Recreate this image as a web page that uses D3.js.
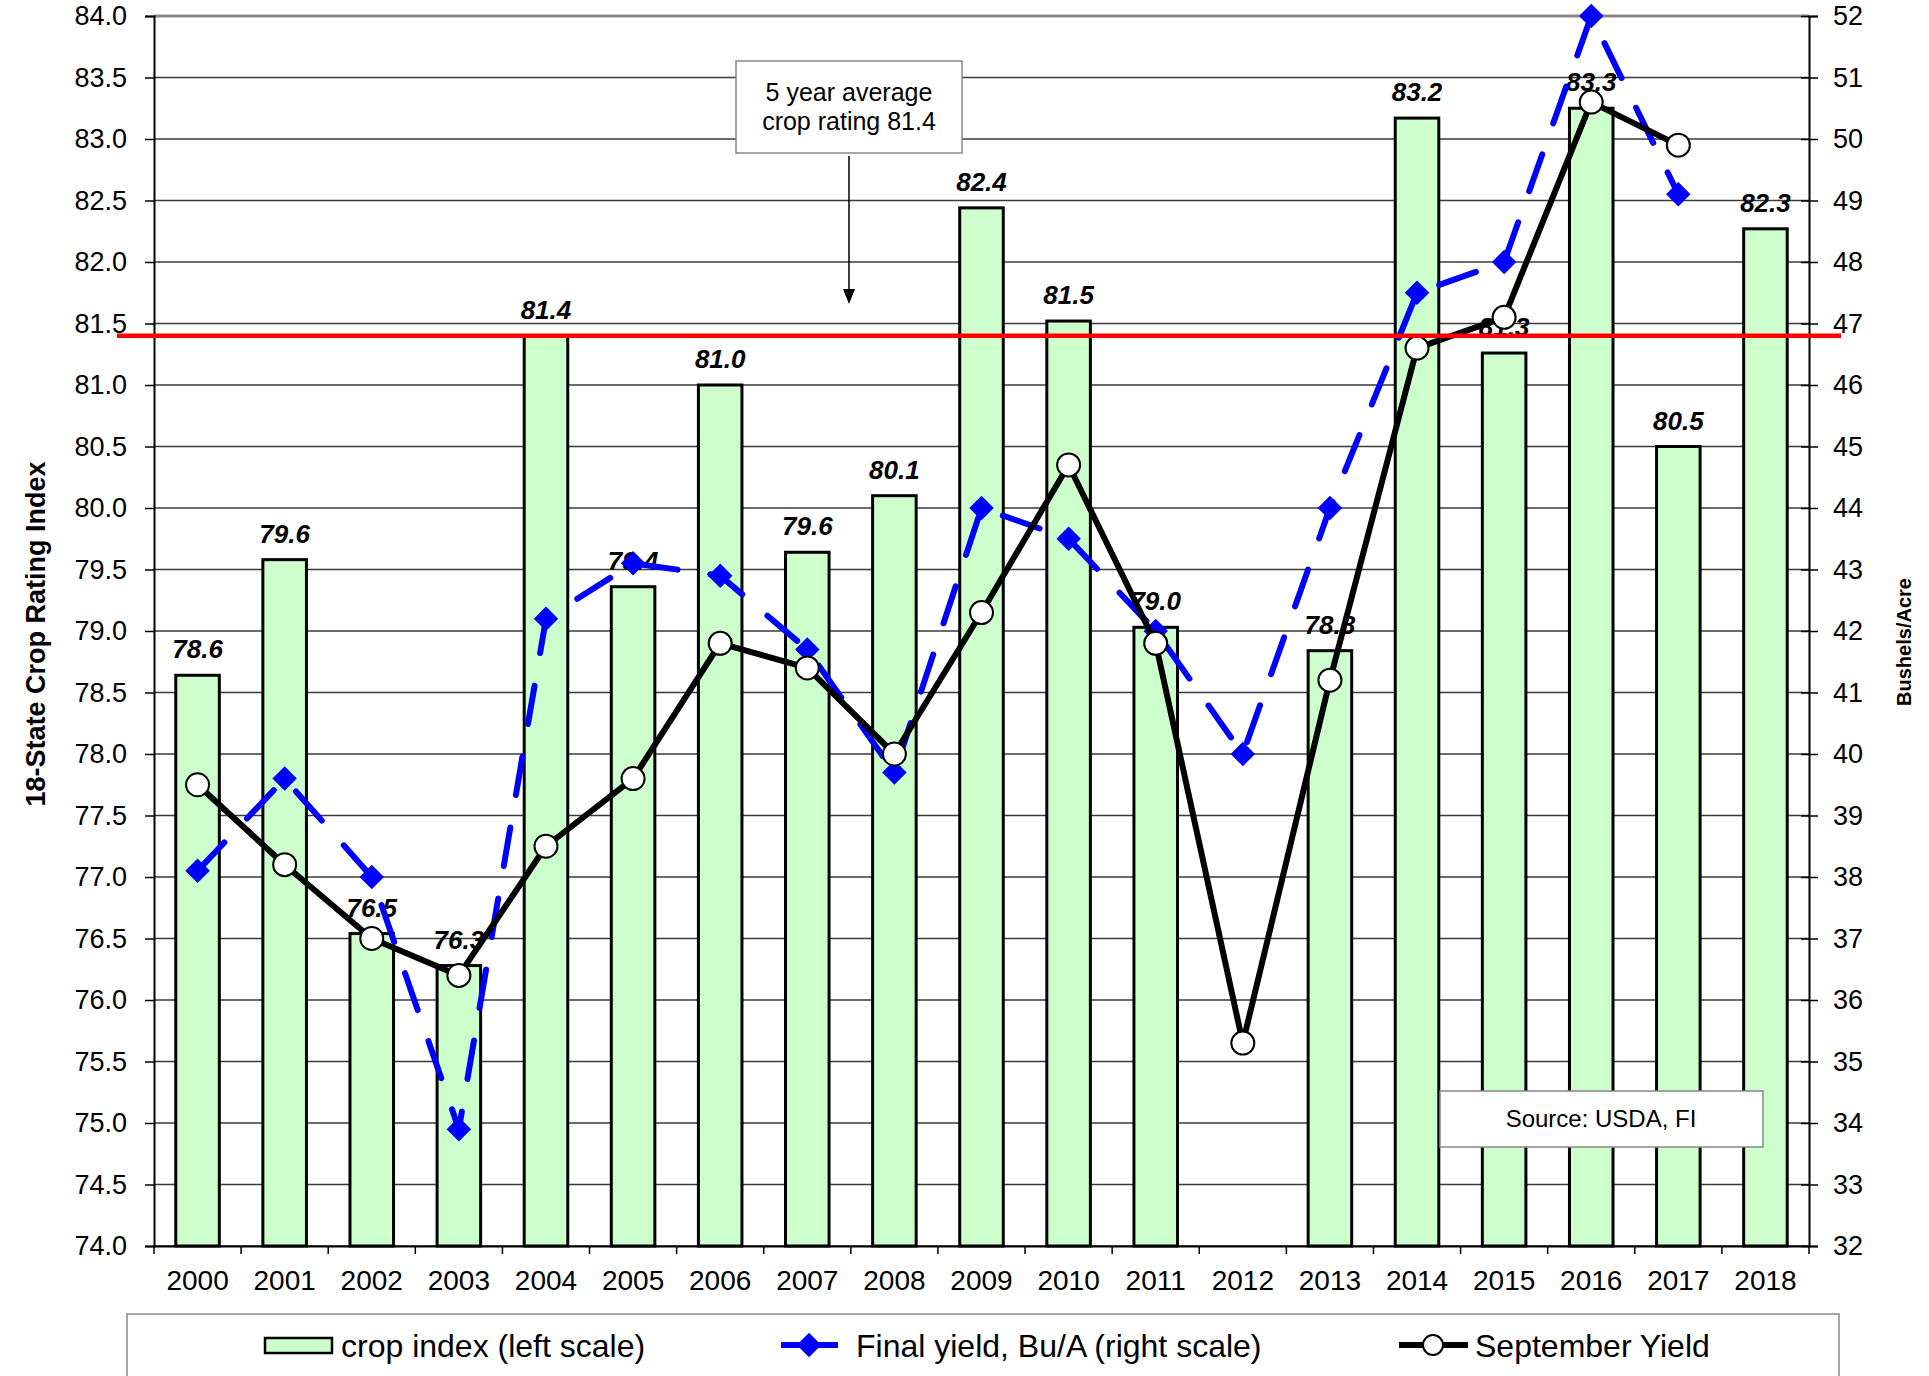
<!DOCTYPE html>
<html>
<head>
<meta charset="utf-8">
<script src="https://cdn.jsdelivr.net/npm/d3@7"></script>
<style>
  body { margin: 0; background: #fff; }
  svg { display: block; font-family: Arial, "Liberation Sans", sans-serif; }
</style>
</head>
<body>
<div id="chart"></div>
<script>
// values
const years = ['2000','2001','2002','2003','2004','2005','2006','2007','2008','2009',
               '2010','2011','2012','2013','2014','2015','2016','2017','2018']
// 18-state crop rating index (left scale); 2012 falls below the axis minimum
const cropIndex = [78.64, 79.58, 76.54, 76.28, 81.40, 79.36, 81.00, 79.64, 80.10, 82.44,
                   81.52, 79.03, 73.0, 78.84, 83.17, 81.26, 83.25, 80.50, 82.27]
// final yield, bu/a (right scale)
const finalYield = [38.1, 39.6, 38.0, 33.9, 42.2, 43.1, 42.9, 41.7, 39.7, 44.0,
                    43.5, 42.0, 40.0, 44.0, 47.5, 48.0, 52.0, 49.1, null]
// september yield (right scale)
const septYield = [39.5, 38.2, 37.0, 36.4, 38.5, 39.6, 41.8, 41.4, 40.0, 42.3,
                   44.7, 41.8, 35.3, 41.2, 46.6, 47.1, 50.6, 49.9, null]
const avgRating = 81.4
const leftTicks = d3.range(74, 84.001, 0.5)
const rightTicks = d3.range(32, 53, 1)

const width = 1929, height = 1376
const plotL = 154, plotR = 1809, plotT = 16, plotB = 1246

const svg = d3.select('#chart').append('svg')
    .attr('width', width)
    .attr('height', height)

svg.append('rect').attr('width', width).attr('height', height).attr('fill', '#fff')

const x = d3.scaleBand().domain(years).range([plotL, plotR])
    .paddingInner(0.5).paddingOuter(0.25)
const yL = d3.scaleLinear().domain([74, 84]).range([plotB, plotT])
const yR = d3.scaleLinear().domain([32, 52]).range([plotB, plotT])

// horizontal grid
svg.append('g').selectAll('line')
    .data(leftTicks)
    .enter().append('line')
    .attr('x1', plotL).attr('x2', plotR)
    .attr('y1', d => yL(d)).attr('y2', d => yL(d))
    .attr('stroke', d => d == 84 ? '#888' : '#3a3a3a')
    .attr('stroke-width', d => d == 84 ? 3 : 1.5)

// bars
const cx = d => x(d) + x.bandwidth() / 2
svg.append('g').selectAll('rect')
    .data(years)
    .enter().append('rect')
    .attr('x', d => x(d))
    .attr('width', x.bandwidth())
    .attr('y', (d, i) => yL(Math.max(cropIndex[i], 74)))
    .attr('height', (d, i) => plotB - yL(Math.max(cropIndex[i], 74)))
    .attr('fill', '#CCFFCC')
    .attr('stroke', '#000')
    .attr('stroke-width', 3)

// bar labels
svg.append('g').selectAll('text')
    .data(years.filter((d, i) => cropIndex[i] >= 74))
    .enter().append('text')
    .attr('x', d => cx(d))
    .attr('y', d => yL(cropIndex[years.indexOf(d)]) - 17)
    .attr('text-anchor', 'middle')
    .attr('font-size', 26)
    .attr('font-weight', 'bold')
    .attr('font-style', 'italic')
    .text(d => cropIndex[years.indexOf(d)].toFixed(1))

// left axis
const axL = svg.append('g')
    .attr('transform', `translate(${plotL},0)`)
    .call(d3.axisLeft(yL).tickValues(leftTicks).tickFormat(d3.format('.1f'))
        .tickSize(9).tickPadding(18))
axL.select('.domain').attr('stroke-width', 2)
axL.selectAll('.tick line').attr('stroke-width', 1.5)
axL.selectAll('text').attr('font-size', 27).attr('fill', '#000')
    .attr('font-family', 'Arial, "Liberation Sans", sans-serif')

// right axis
const axR = svg.append('g')
    .attr('transform', `translate(${plotR},0)`)
    .call(d3.axisRight(yR).tickValues(rightTicks).tickFormat(d3.format('d'))
        .tickSize(9).tickPadding(15))
axR.select('.domain').attr('stroke-width', 2)
axR.selectAll('.tick line').attr('x1', -8).attr('stroke-width', 1.5)
axR.selectAll('text').attr('font-size', 27).attr('fill', '#000')
    .attr('font-family', 'Arial, "Liberation Sans", sans-serif')

// bottom axis
const axB = svg.append('g')
    .attr('transform', `translate(0,${plotB})`)
    .call(d3.axisBottom(x).tickSize(0).tickPadding(24))
axB.select('.domain').attr('stroke-width', 2)
axB.selectAll('text').attr('font-size', 28).attr('fill', '#000')
    .attr('font-family', 'Arial, "Liberation Sans", sans-serif')
axB.selectAll('.sep')
    .data(d3.range(years.length + 1))
    .enter().append('line')
    .attr('x1', i => plotL + i * x.step()).attr('x2', i => plotL + i * x.step())
    .attr('y1', 0).attr('y2', 8)
    .attr('stroke', '#000').attr('stroke-width', 1.5)

// final yield: dashed blue with diamonds
const fy = years.map((d, i) => [cx(d), finalYield[i]]).filter(p => p[1] != null)
svg.append('path')
    .datum(fy)
    .attr('d', d3.line().x(p => p[0]).y(p => yR(p[1])))
    .attr('fill', 'none')
    .attr('stroke', '#0000FF')
    .attr('stroke-width', 6)
    .attr('stroke-linecap', 'round')
    .attr('stroke-dasharray', '39,33')
const diamond = d3.symbol(d3.symbolSquare, 300)
svg.append('g').selectAll('path')
    .data(fy)
    .enter().append('path')
    .attr('d', diamond)
    .attr('transform', p => `translate(${p[0]},${yR(p[1])}) rotate(45)`)
    .attr('fill', '#0000FF')

// september yield: solid black with open circles
const sy = years.map((d, i) => [cx(d), septYield[i]]).filter(p => p[1] != null)
svg.append('path')
    .datum(sy)
    .attr('d', d3.line().x(p => p[0]).y(p => yR(p[1])))
    .attr('fill', 'none')
    .attr('stroke', '#000')
    .attr('stroke-width', 6)
    .attr('stroke-linejoin', 'round')
svg.append('g').selectAll('circle')
    .data(sy)
    .enter().append('circle')
    .attr('cx', p => p[0])
    .attr('cy', p => yR(p[1]))
    .attr('r', 11.5)
    .attr('fill', '#fff')
    .attr('stroke', '#000')
    .attr('stroke-width', 2)

// 5 year average line
svg.append('line')
    .attr('x1', 117).attr('x2', 1841)
    .attr('y1', yL(avgRating)).attr('y2', yL(avgRating))
    .attr('stroke', '#FF0000')
    .attr('stroke-width', 4.5)

// annotation box + arrow
svg.append('rect')
    .attr('x', 736).attr('y', 61).attr('width', 226).attr('height', 92)
    .attr('fill', '#fff').attr('stroke', '#888').attr('stroke-width', 1.5)
svg.append('text').attr('x', 849).attr('y', 101).attr('text-anchor', 'middle')
    .attr('font-size', 25).text('5 year average')
svg.append('text').attr('x', 849).attr('y', 130).attr('text-anchor', 'middle')
    .attr('font-size', 25).text('crop rating ' + avgRating.toFixed(1))
svg.append('line')
    .attr('x1', 849).attr('x2', 849).attr('y1', 156).attr('y2', 292)
    .attr('stroke', '#000').attr('stroke-width', 1.5)
svg.append('path')
    .attr('d', 'M843,289 L855,289 L849,304 Z')
    .attr('fill', '#000')

// source box
svg.append('rect')
    .attr('x', 1440).attr('y', 1091).attr('width', 323).attr('height', 56)
    .attr('fill', '#fff').attr('stroke', '#888').attr('stroke-width', 1.5)
svg.append('text').attr('x', 1601).attr('y', 1127).attr('text-anchor', 'middle')
    .attr('font-size', 24).text('Source: USDA, FI')

// axis titles
svg.append('text')
    .attr('transform', `translate(45,${(plotT + plotB) / 2 + 3}) rotate(-90)`)
    .attr('text-anchor', 'middle')
    .attr('font-size', 27).attr('font-weight', 'bold')
    .text('18-State Crop Rating Index')
svg.append('text')
    .attr('transform', `translate(1911,642) rotate(-90)`)
    .attr('text-anchor', 'middle')
    .attr('font-size', 20).attr('font-weight', 'bold')
    .text('Bushels/Acre')

// legend
const lg = svg.append('g')
lg.append('rect')
    .attr('x', 127).attr('y', 1314).attr('width', 1712).attr('height', 120)
    .attr('fill', '#fff').attr('stroke', '#888').attr('stroke-width', 1.5)
lg.append('rect')
    .attr('x', 265).attr('y', 1338).attr('width', 67).attr('height', 15)
    .attr('fill', '#CCFFCC').attr('stroke', '#000').attr('stroke-width', 2.5)
lg.append('text').attr('x', 341).attr('y', 1357).attr('font-size', 32)
    .text('crop index (left scale)')
lg.append('line').attr('x1', 781).attr('x2', 838).attr('y1', 1345).attr('y2', 1345)
    .attr('stroke', '#0000FF').attr('stroke-width', 6)
lg.append('path').attr('d', diamond)
    .attr('transform', 'translate(809,1345) rotate(45)').attr('fill', '#0000FF')
lg.append('text').attr('x', 856).attr('y', 1357).attr('font-size', 32)
    .text('Final yield, Bu/A (right scale)')
lg.append('line').attr('x1', 1399).attr('x2', 1468).attr('y1', 1345).attr('y2', 1345)
    .attr('stroke', '#000').attr('stroke-width', 6)
lg.append('circle').attr('cx', 1433).attr('cy', 1345).attr('r', 10)
    .attr('fill', '#fff').attr('stroke', '#000').attr('stroke-width', 2)
lg.append('text').attr('x', 1475).attr('y', 1357).attr('font-size', 32)
    .text('September Yield')
</script>
</body>
</html>
